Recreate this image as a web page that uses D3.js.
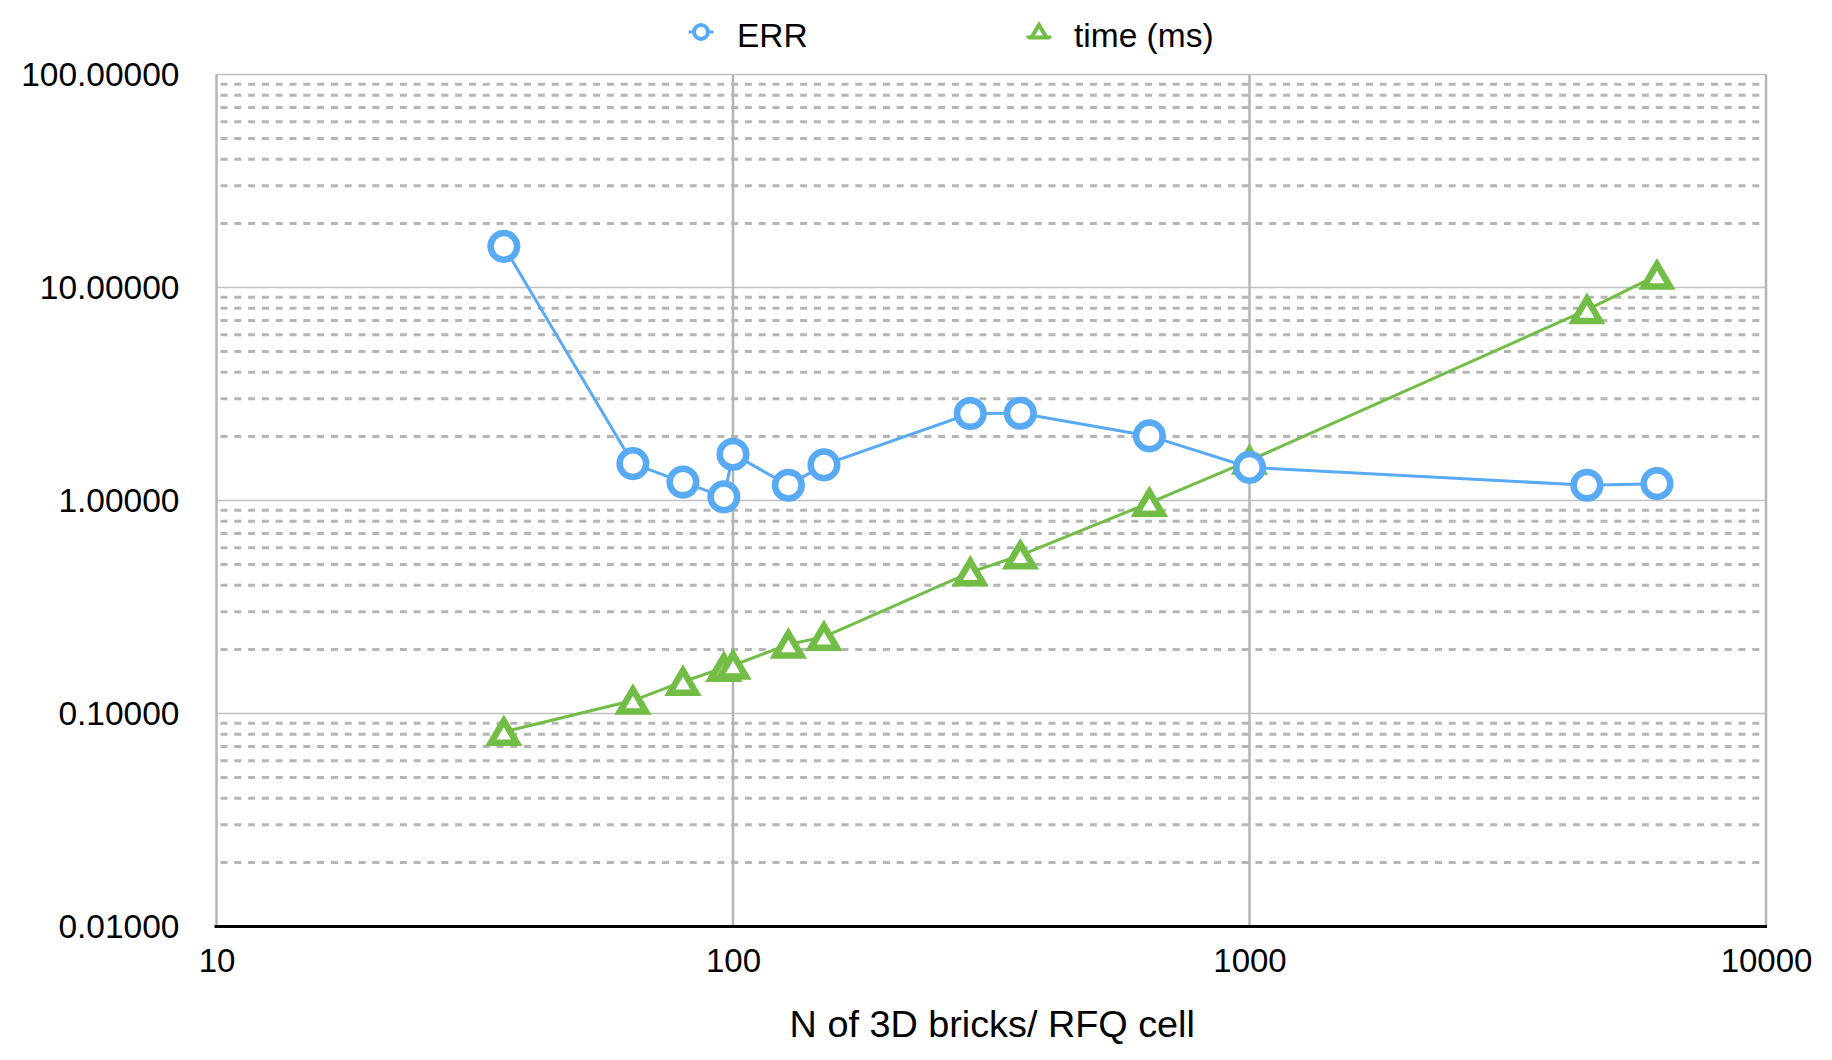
<!DOCTYPE html>
<html>
<head>
<meta charset="utf-8">
<script src="https://cdn.jsdelivr.net/npm/d3@7"></script>
<style>
  html, body { margin: 0; padding: 0; background: #fff; }
  svg { display: block; font-family: "Liberation Sans", Arial, Helvetica, sans-serif; }
</style>
</head>
<body>
<svg id="chart" width="1832" height="1060"></svg>
<script>
// ---- data ----
const bricks = [36, 64, 80, 96, 100, 128, 150, 288, 360, 640, 1000, 4500, 6150];
const errValues = [15.6, 1.49, 1.22, 1.04, 1.65, 1.18, 1.47, 2.56, 2.57, 2.01, 1.43, 1.18, 1.20];
const timeValues = [0.082, 0.115, 0.141, 0.164, 0.168, 0.211, 0.229, 0.460, 0.553, 0.975, 1.54, 7.85, 11.4];
const seriesNames = ["ERR", "time (ms)"];
const xTicks = [10, 100, 1000, 10000];
const yTicks = [0.01, 0.1, 1, 10, 100];
const xTitle = "N of 3D bricks/ RFQ cell";

// ---- layout ----
const pLeft = 216.5, pRight = 1766, pTop = 74.5, pBottom = 926.5;
const blue = "#58aaf4", green = "#72bd45", gridGray = "#b5b5b5";

const svg = d3.select("#chart");
const x = d3.scaleLog().domain([10, 10000]).range([pLeft, pRight]);
const y = d3.scaleLog().domain([0.01, 100]).range([pBottom, pTop]);

// minor horizontal grid (dashed)
const minor = [];
for (let e = -2; e < 2; e++) {
  for (let m = 2; m <= 9; m++) minor.push(m * Math.pow(10, e));
}
svg.append("g").selectAll("line").data(minor).join("line")
  .attr("x1", pLeft + 4).attr("x2", pRight - 4)
  .attr("y1", d => y(d)).attr("y2", d => y(d))
  .attr("stroke", gridGray).attr("stroke-width", 3)
  .attr("stroke-dasharray", "7,6.8");

// major horizontal grid
svg.append("g").selectAll("line").data(yTicks.slice(1)).join("line")
  .attr("x1", pLeft).attr("x2", pRight)
  .attr("y1", d => y(d)).attr("y2", d => y(d))
  .attr("stroke", "#c0c0c0").attr("stroke-width", 1.5);

// vertical grid / borders
svg.append("g").selectAll("line").data(xTicks).join("line")
  .attr("x1", d => x(d)).attr("x2", d => x(d))
  .attr("y1", pTop).attr("y2", pBottom)
  .attr("stroke", "#b5b5b5").attr("stroke-width", 2.5);

// bottom axis line
svg.append("line").attr("x1", pLeft - 2).attr("x2", pRight + 1)
  .attr("y1", pBottom).attr("y2", pBottom)
  .attr("stroke", "#000").attr("stroke-width", 3);

// axes labels
const yAxis = d3.axisLeft(y).tickValues(yTicks).tickFormat(d3.format(".5f"))
  .tickSize(0).tickPadding(37);
const gy = svg.append("g").attr("transform", `translate(${pLeft},0)`).call(yAxis);
gy.select(".domain").remove();
gy.selectAll("text").attr("font-size", 33.5).attr("fill", "#000")
  .attr("font-family", "Liberation Sans, Arial, sans-serif");

const xAxis = d3.axisBottom(x).tickValues(xTicks).tickFormat(d3.format("d"))
  .tickSize(0).tickPadding(22);
const gx = svg.append("g").attr("transform", `translate(0,${pBottom})`).call(xAxis);
gx.select(".domain").remove();
gx.selectAll("text").attr("font-size", 33).attr("fill", "#000")
  .attr("font-family", "Liberation Sans, Arial, sans-serif");

svg.append("text").attr("x", (pLeft + pRight) / 2 + 1).attr("y", 1037)
  .attr("text-anchor", "middle").attr("font-size", 37.8).attr("fill", "#000")
  .text(xTitle);

// series
const line = d3.line().x(d => x(d[0])).y(d => y(d[1]));
const timeData = bricks.map((b, i) => [b, timeValues[i]]);
const errData = bricks.map((b, i) => [b, errValues[i]]);

const triPath = "M0,-12 L13,10 L-13,10 Z";

// time series (below)
svg.append("path").datum(timeData).attr("d", line)
  .attr("fill", "none").attr("stroke", green).attr("stroke-width", 3);
svg.append("g").selectAll("path").data(timeData).join("path")
  .attr("transform", d => `translate(${x(d[0])},${y(d[1]) + 1})`)
  .attr("d", triPath)
  .attr("fill", "#fff").attr("stroke", green).attr("stroke-width", 6.5)
  .attr("stroke-linejoin", "miter");

// ERR series (top)
svg.append("path").datum(errData).attr("d", line)
  .attr("fill", "none").attr("stroke", blue).attr("stroke-width", 3);
svg.append("g").selectAll("circle").data(errData).join("circle")
  .attr("cx", d => x(d[0])).attr("cy", d => y(d[1])).attr("r", 13.3)
  .attr("fill", "#fff").attr("stroke", blue).attr("stroke-width", 6.5);

// legend
const legY = 32;
const lg1 = svg.append("g").attr("transform", `translate(701,${legY})`);
lg1.append("line").attr("x1", -12.5).attr("x2", 12.5).attr("stroke", blue).attr("stroke-width", 3);
lg1.append("circle").attr("r", 7).attr("fill", "#fff").attr("stroke", blue).attr("stroke-width", 4);
svg.append("text").attr("x", 737).attr("y", 46.5).attr("font-size", 33.5).attr("fill", "#000").text(seriesNames[0]);

const lg2 = svg.append("g").attr("transform", `translate(1039,${legY})`);
lg2.append("line").attr("x1", -12.5).attr("x2", 12.5).attr("y1", 5).attr("y2", 5).attr("stroke", green).attr("stroke-width", 3);
lg2.append("path").attr("d", "M0,-7 L7.5,5.5 L-7.5,5.5 Z").attr("fill", "#fff")
  .attr("stroke", green).attr("stroke-width", 4);
svg.append("text").attr("x", 1074).attr("y", 46.5).attr("font-size", 33.5).attr("fill", "#000").text(seriesNames[1]);
</script>
</body>
</html>
